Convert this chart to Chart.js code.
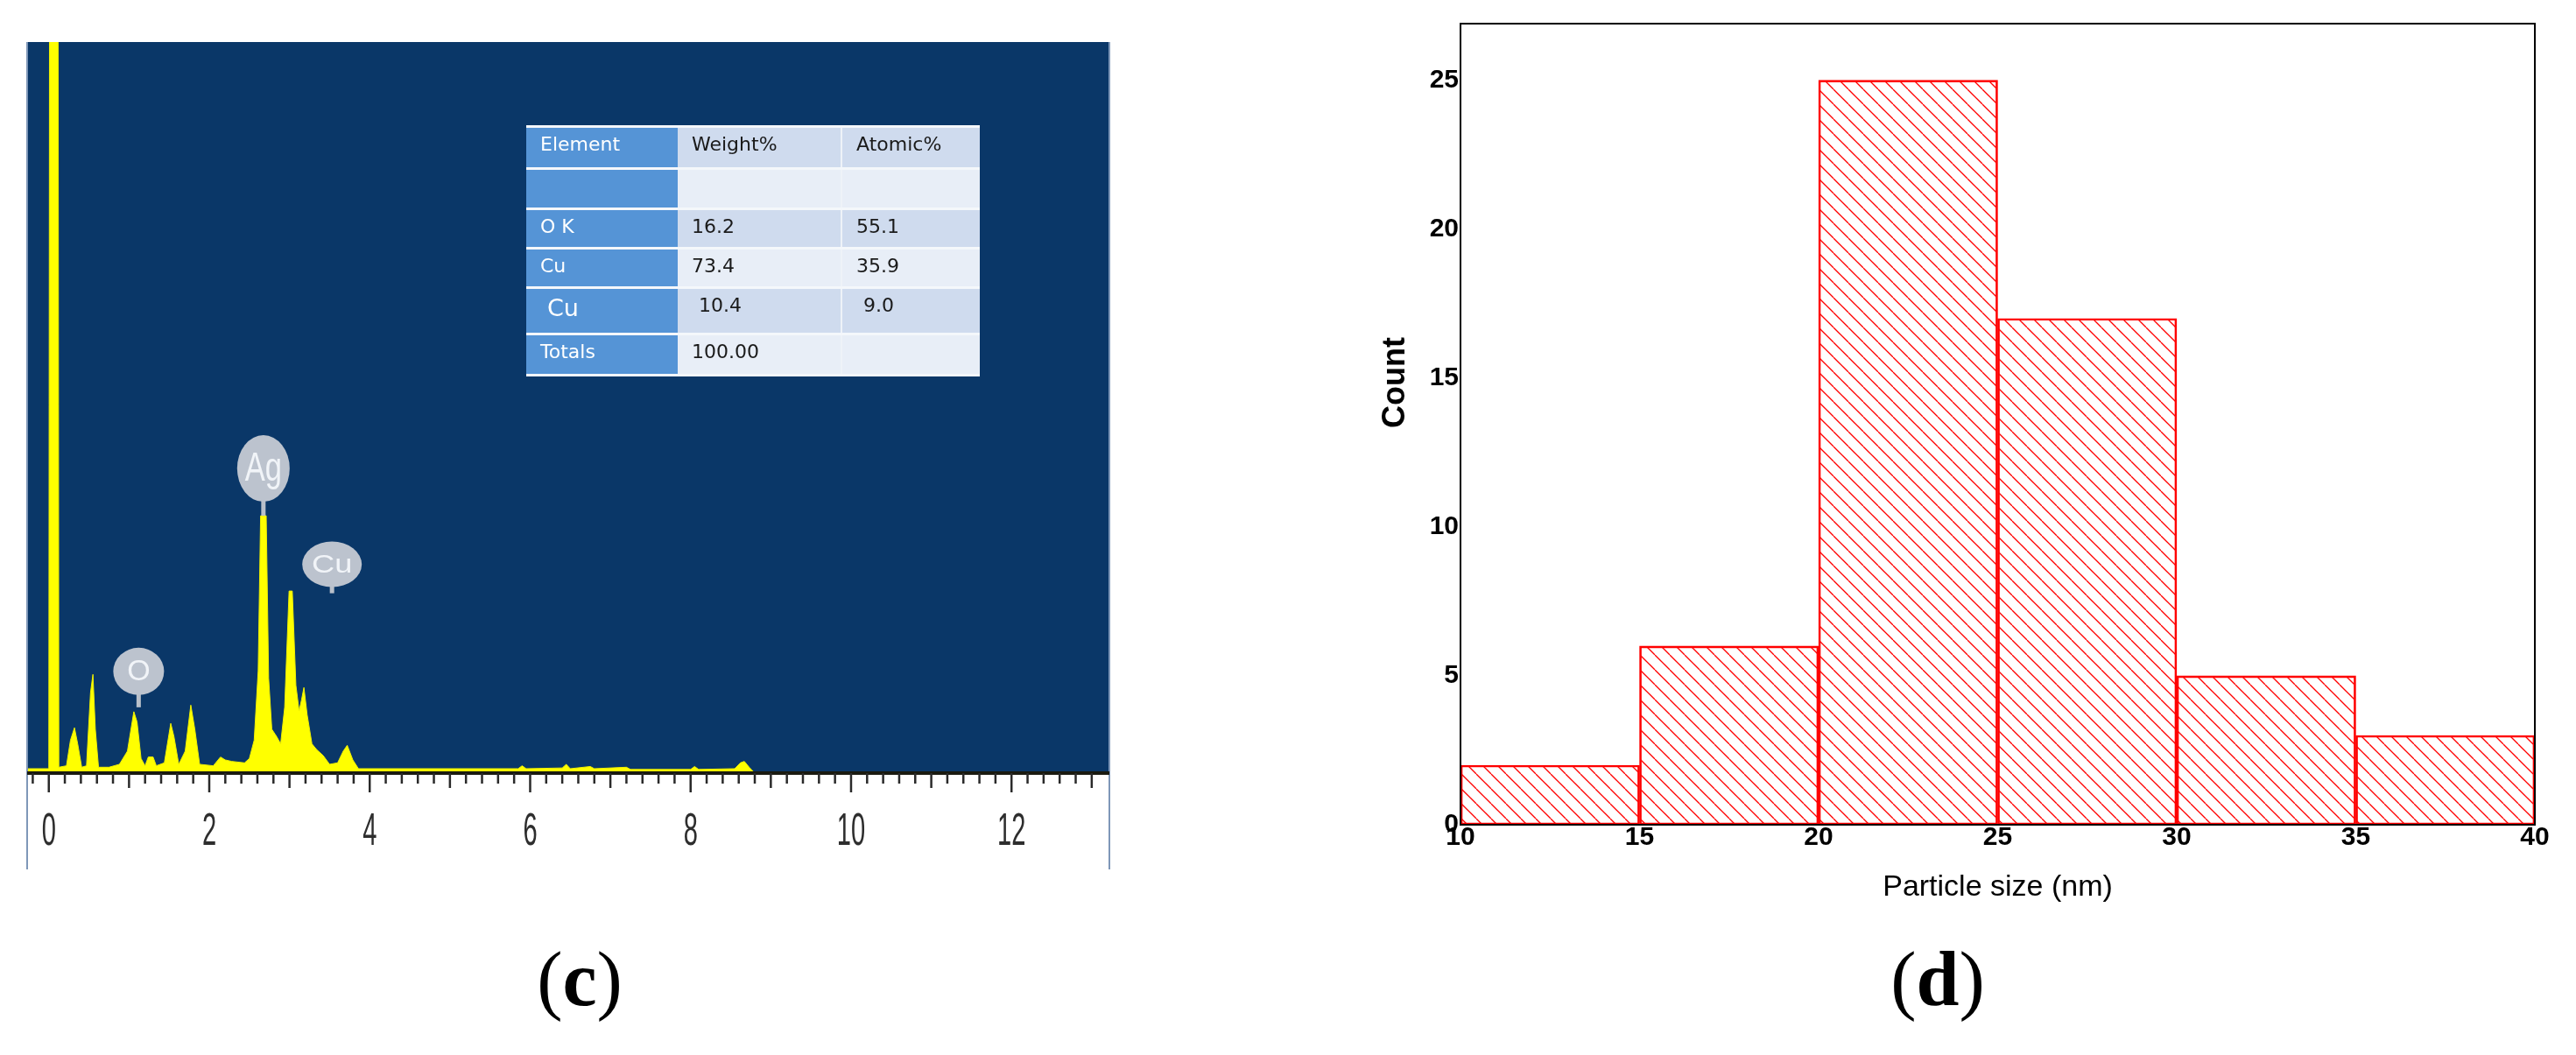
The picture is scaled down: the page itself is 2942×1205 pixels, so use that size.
<!DOCTYPE html>
<html>
<head>
<meta charset="utf-8">
<script src="https://cdn.jsdelivr.net/npm/chart.js@4.4.0/dist/chart.umd.min.js"></script>
<style>
  body { margin: 0; background: #fff; width: 2942px; height: 1205px; position: relative; overflow: hidden; }
  #edsBox { position: absolute; left: 0; top: 0; width: 1300px; height: 1000px; }
  #histBox { position: absolute; left: 1550px; top: 0; width: 1392px; height: 1100px; }
  .tag { position: absolute; top: 1075px; font-family: "Liberation Serif", "Times New Roman", serif; font-size: 88px; line-height: 1; width: 200px; text-align: center; color: #000; }
  #edsTable { position: absolute; left: 601px; top: 143px; width: 518px; border-collapse: collapse; font-family: "DejaVu Sans", sans-serif; font-size: 22px; color: #1a1a1a; }
  #edsTable td { padding: 6px 0 0 16px; vertical-align: top; border-top: 3px solid #f4f7fb; border-bottom: 3px solid #f4f7fb; }
  #edsTable td:first-child { background: #5594d6; color: #fff; width: 149px; }
  #edsTable td:nth-child(2) { width: 162px; border-right: 2px solid #eef2f8; }
  #edsTable tr.dk td:not(:first-child) { background: #cfdbee; }
  #edsTable tr.lt td:not(:first-child) { background: #e8eef7; }
</style>
</head>
<body>
<div id="edsBox"><canvas id="eds"></canvas></div>
<div id="histBox"><canvas id="hist"></canvas></div>
<table id="edsTable"></table>
<div class="tag" style="left:562px">(<b>c</b>)</div>
<div class="tag" style="left:2113px">(<b>d</b>)</div>
<script>
// EDS spectrum: energy in keV, intensity in arbitrary counts
var edsEnergy = [-0.27, 0.0, 0.01, 0.115, 0.125, 0.22, 0.27, 0.32, 0.36, 0.41,
  0.47, 0.52, 0.55, 0.58, 0.62, 0.75, 0.88, 0.98, 1.06, 1.1, 1.15, 1.2, 1.24, 1.3, 1.34, 1.44, 1.52, 1.56,
  1.62, 1.7, 1.77, 1.82, 1.88, 2.05, 2.14, 2.2, 2.28, 2.44, 2.5, 2.56, 2.61, 2.64, 2.71, 2.74, 2.78,
  2.84, 2.89, 2.94, 2.995, 3.035, 3.08, 3.12, 3.15, 3.18, 3.22, 3.28, 3.34, 3.42, 3.5, 3.6, 3.67, 3.72, 3.79,
  3.86, 5.85, 5.9, 5.95, 6.4, 6.45, 6.5, 6.75, 6.8, 7.2, 7.25, 8.0, 8.05, 8.1, 8.55, 8.62, 8.67, 8.73, 8.8, 13.3];
var edsCounts = [6, 6, 1200, 1200, 8, 10, 45, 62, 40, 8,
  10, 110, 135, 60, 8, 8, 12, 30, 84, 70, 20, 10, 22, 22, 10, 14, 68, 50,
  12, 30, 93, 60, 12, 10, 22, 18, 16, 14, 20, 45, 140, 352, 352, 130, 60,
  50, 40, 90, 249, 249, 120, 85, 100, 117, 80, 40, 32, 24, 12, 14, 30, 38, 18,
  6, 6, 10, 6, 7, 12, 6, 9, 6, 8, 5, 5, 9, 5, 6, 14, 16, 8, 0, 0];
var edsTicks = [0, 2, 4, 6, 8, 10, 12];

// peak markers
var peakNames = ['O', 'Ag', 'Cu'];
var peakEnergy = [1.12, 2.675, 3.53];
var peakLevel = [90, 352, 246];

// quantification table
var tableHead = ['Element', 'Weight%', 'Atomic%'];
var tableElements = ['', 'O K', 'Cu', ' Cu', 'Totals'];
var tableWeight = ['', '16.2', '73.4', ' 10.4', '100.00'];
var tableAtomic = ['', '55.1', '35.9', ' 9.0', ''];

// particle size histogram, panel (d)
var binEdges = [10, 15, 20, 25, 30, 35, 40];
var binCounts = [2, 6, 25, 17, 5, 3];
var countTicks = [0, 5, 10, 15, 20, 25];

// build table
var tbl = document.getElementById('edsTable');
var rowH = [48, 46, 45, 45, 53, 47];
function addRow(cells, cls, h) {
  var tr = document.createElement('tr');
  tr.className = cls;
  tr.style.height = h + 'px';
  cells.forEach(function (c, i) {
    var td = document.createElement('td');
    td.textContent = c;
    if (c.charAt(0) === ' ') td.style.paddingLeft = '24px';
    if (i === 0 && c === ' Cu') td.style.fontSize = '27px';
    tr.appendChild(td);
  });
  tbl.appendChild(tr);
}
addRow(tableHead, 'dk', rowH[0]);
for (var r = 0; r < tableElements.length; r++) {
  addRow([tableElements[r], tableWeight[r], tableAtomic[r]], r % 2 === 0 ? 'lt' : 'dk', rowH[r + 1]);
}

var bubbleStyle = {
  'O':  { rx: 29, ry: 27, stem: 14, size: 34, sx: 1.0 },
  'Ag': { rx: 30, ry: 38, stem: 16, size: 46, sx: 0.75 },
  'Cu': { rx: 34, ry: 26, stem: 7, size: 29, sx: 1.25 }
};
var narrowFont = '"Liberation Sans", Arial, sans-serif';

var edsDecor = {
  id: 'edsDecor',
  beforeDatasetsDraw: function (chart) {
    var a = chart.chartArea, ctx = chart.ctx;
    ctx.save();
    ctx.fillStyle = '#0a3768';
    ctx.fillRect(a.left, a.top, a.right - a.left, a.bottom - a.top);
    ctx.restore();
  },
  afterDatasetsDraw: function (chart) {
    var a = chart.chartArea, ctx = chart.ctx;
    var xs = chart.scales.x, ys = chart.scales.y;
    ctx.save();
    // frame
    ctx.strokeStyle = '#7f97b8';
    ctx.lineWidth = 2;
    ctx.beginPath();
    ctx.moveTo(a.left, a.top); ctx.lineTo(a.left, a.bottom + 110);
    ctx.moveTo(a.right, a.top); ctx.lineTo(a.right, a.bottom + 110);
    ctx.stroke();
    // baseline and ticks
    ctx.strokeStyle = '#1a1a10';
    ctx.lineWidth = 4;
    ctx.beginPath();
    ctx.moveTo(a.left, a.bottom); ctx.lineTo(a.right, a.bottom);
    ctx.stroke();
    ctx.lineWidth = 2.5;
    ctx.strokeStyle = '#2a2a2a';
    for (var k = -1; k <= 66; k++) {
      var e = k * 0.2;
      var px = xs.getPixelForValue(e);
      if (px < a.left + 2 || px > a.right - 2) continue;
      var len = 12;
      if (k % 10 === 0) len = 22; else if (k % 5 === 0) len = 17;
      ctx.beginPath();
      ctx.moveTo(px, a.bottom); ctx.lineTo(px, a.bottom + len);
      ctx.stroke();
    }
    // condensed tick labels at the scale's ticks
    ctx.fillStyle = '#2e2e2e';
    ctx.font = '52px ' + narrowFont;
    ctx.textAlign = 'center';
    ctx.textBaseline = 'middle';
    xs.ticks.forEach(function (t) {
      ctx.save();
      ctx.translate(xs.getPixelForValue(t.value), 951);
      ctx.scale(0.56, 1);
      ctx.fillText(String(t.value), 0, 0);
      ctx.restore();
    });
    // peak bubbles
    peakNames.forEach(function (name, i) {
      var st = bubbleStyle[name];
      var tx = xs.getPixelForValue(peakEnergy[i]);
      var ty = ys.getPixelForValue(peakLevel[i]);
      var cy = ty - st.stem - st.ry;
      ctx.strokeStyle = '#b9c0ca';
      ctx.lineWidth = 5;
      ctx.beginPath();
      ctx.moveTo(tx, ty); ctx.lineTo(tx, cy);
      ctx.stroke();
      ctx.fillStyle = '#bcc3ce';
      ctx.beginPath();
      ctx.ellipse(tx, cy, st.rx, st.ry, 0, 0, Math.PI * 2);
      ctx.fill();
      ctx.fillStyle = '#f1f4f8';
      ctx.font = st.size + 'px ' + narrowFont;
      ctx.save();
      ctx.translate(tx, cy + 1);
      ctx.scale(st.sx, 1);
      ctx.fillText(name, 0, 0);
      ctx.restore();
    });
    ctx.restore();
  }
};

var edsPoints = edsEnergy.map(function (e, i) { return { x: e, y: edsCounts[i] }; });

new Chart(document.getElementById('eds'), {
  type: 'line',
  data: {
    datasets: [{
      data: edsPoints,
      borderColor: '#f0f000',
      backgroundColor: '#ffff00',
      borderWidth: 1,
      pointRadius: 0,
      fill: 'origin',
      tension: 0
    }]
  },
  options: {
    responsive: true,
    maintainAspectRatio: false,
    animation: false,
    layout: { padding: { left: 31, right: 33, top: 48, bottom: 7 } },
    plugins: { legend: { display: false }, tooltip: { enabled: false } },
    scales: {
      x: {
        type: 'linear',
        min: -0.27,
        max: 13.22,
        grid: { display: false, drawTicks: false },
        border: { display: false },
        afterBuildTicks: function (s) { s.ticks = edsTicks.map(function (v) { return { value: v }; }); },
        afterFit: function (s) { s.height = 110; },
        ticks: { display: false }
      },
      y: { display: false, min: 0, max: 1000 }
    }
  },
  plugins: [edsDecor]
});

// hatch pattern for the histogram bars
function hatch() {
  var s = 17, c = document.createElement('canvas');
  c.width = s; c.height = s;
  var g = c.getContext('2d');
  g.strokeStyle = '#ff0000';
  g.lineWidth = 1.3;
  [-s, 0, s].forEach(function (k) {
    g.beginPath(); g.moveTo(k, 0); g.lineTo(k + s, s); g.stroke();
  });
  return g.createPattern(c, 'repeat');
}

var histDecor = {
  id: 'histDecor',
  afterDraw: function (chart) {
    var a = chart.chartArea, ctx = chart.ctx;
    ctx.save();
    ctx.strokeStyle = '#000';
    ctx.lineWidth = 2;
    ctx.strokeRect(a.left, a.top, a.right - a.left, a.bottom - a.top);
    ctx.translate(44, 437);
    ctx.rotate(-Math.PI / 2);
    ctx.fillStyle = '#000';
    ctx.font = 'bold 36px "Liberation Sans", Arial, sans-serif';
    ctx.textAlign = 'center';
    ctx.textBaseline = 'middle';
    ctx.fillText('Count', 0, 0);
    ctx.restore();
  }
};

var histPoints = binCounts.map(function (c, i) { return { x: (binEdges[i] + binEdges[i + 1]) / 2, y: c }; });

new Chart(document.getElementById('hist'), {
  type: 'bar',
  data: {
    datasets: [{
      data: histPoints,
      backgroundColor: hatch(),
      borderColor: '#ff0000',
      borderWidth: 2,
      borderSkipped: false,
      barPercentage: 1,
      categoryPercentage: 1
    }]
  },
  options: {
    responsive: true,
    maintainAspectRatio: false,
    animation: false,
    layout: { padding: { left: 22, right: 47, top: 27, bottom: 66 } },
    plugins: { legend: { display: false }, tooltip: { enabled: false } },
    scales: {
      x: {
        type: 'linear',
        offset: false,
        min: binEdges[0],
        max: binEdges[binEdges.length - 1],
        grid: { display: false, drawTicks: false, offset: false },
        border: { display: false },
        afterBuildTicks: function (s) { s.ticks = binEdges.map(function (v) { return { value: v }; }); },
        afterFit: function (s) { s.height = 92; },
        ticks: {
          autoSkip: false,
          maxRotation: 0,
          padding: 0,
          color: '#000',
          font: { family: '"Liberation Sans", Arial, sans-serif', size: 30, weight: 'bold', lineHeight: 1 }
        },
        title: {
          display: true,
          text: 'Particle size (nm)',
          color: '#000',
          padding: 0,
          font: { family: '"Liberation Sans", Arial, sans-serif', size: 34 }
        }
      },
      y: {
        min: 0,
        max: 26.9,
        grid: { display: false, drawTicks: false },
        border: { display: false },
        afterBuildTicks: function (s) { s.ticks = countTicks.map(function (v) { return { value: v }; }); },
        afterFit: function (s) { s.width = 96; },
        ticks: {
          padding: 2,
          color: '#000',
          font: { family: '"Liberation Sans", Arial, sans-serif', size: 30, weight: 'bold' }
        }
      }
    }
  },
  plugins: [histDecor]
});
</script>
</body>
</html>
